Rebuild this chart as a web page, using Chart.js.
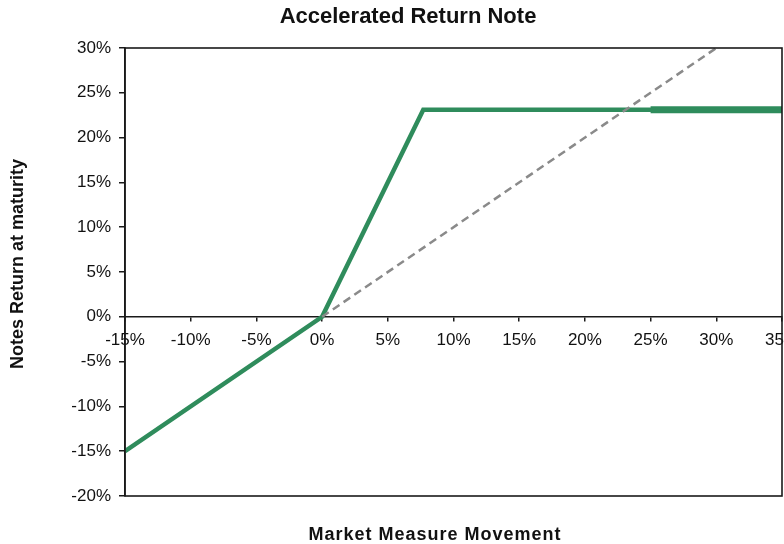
<!DOCTYPE html>
<html>
<head>
<meta charset="utf-8">
<script src="https://cdn.jsdelivr.net/npm/chart.js@4/dist/chart.umd.min.js"></script>
<style>
  html, body { margin: 0; padding: 0; background: #fff; }
  #wrap { width: 784px; height: 544px; position: relative; }
</style>
</head>
<body>
<div id="wrap"><canvas id="c" width="784" height="544"></canvas></div>
<script>
// Data (percent)
const marketMove   = [-15, 0, 7.7, 25, 35];
const noteReturn   = [-15, 0, 23.1, 23.1, 23.1];
const capMove      = [25, 35];
const capReturn    = [23.1, 23.1];
const directMove   = [0, 30];
const directReturn = [0, 30];
const xTicks = [-15, -10, -5, 0, 5, 10, 15, 20, 25, 30, 35];
const yTicks = [-20, -15, -10, -5, 0, 5, 10, 15, 20, 25, 30];

const chartTitle = 'Accelerated Return Note';
const xTitle = 'Market Measure Movement';
const yTitle = 'Notes Return at maturity';

const toPts = (xs, ys) => xs.map((x, i) => ({ x: x, y: ys[i] }));

const GREEN = '#2f8c5c';
const FONT = "'Liberation Sans', Arial, sans-serif";

const framePlugin = {
  id: 'frame',
  afterDraw(chart) {
    const { ctx, chartArea: a } = chart;
    ctx.save();
    ctx.strokeStyle = '#1a1a1a';
    ctx.lineWidth = 1.6;
    ctx.strokeRect(a.left, a.top, a.right - a.left, a.bottom - a.top);
    ctx.fillStyle = '#111';
    ctx.textAlign = 'center';
    ctx.textBaseline = 'middle';
    ctx.font = 'bold 22px ' + FONT;
    ctx.fillText(chartTitle, 408, 17);
    ctx.font = 'bold 18px ' + FONT;
    if ('letterSpacing' in ctx) ctx.letterSpacing = '1px';
    ctx.fillText(xTitle, 435, 535);
    if ('letterSpacing' in ctx) ctx.letterSpacing = '0px';
    ctx.translate(18, 264);
    ctx.rotate(-Math.PI / 2);
    ctx.font = 'bold 18px ' + FONT;
    ctx.fillText(yTitle, 0, 0);
    ctx.restore();
  }
};

new Chart(document.getElementById('c'), {
  type: 'scatter',
  data: {
    datasets: [
      {
        label: 'Direct investment',
        data: toPts(directMove, directReturn),
        showLine: true,
        borderColor: '#8a8a8a',
        borderWidth: 2.5,
        borderDash: [8, 5],
        pointRadius: 0,
        fill: false
      },
      {
        label: 'Note return',
        data: toPts(marketMove, noteReturn),
        showLine: true,
        borderColor: GREEN,
        borderWidth: 4.5,
        pointRadius: 0,
        fill: false
      },
      {
        label: 'Cap',
        data: toPts(capMove, capReturn),
        showLine: true,
        borderColor: GREEN,
        borderWidth: 7,
        borderCapStyle: 'butt',
        pointRadius: 0,
        fill: false
      }
    ]
  },
  options: {
    responsive: false,
    animation: false,
    layout: { padding: { left: 0, right: 2, top: 48, bottom: 48 } },
    plugins: {
      legend: { display: false },
      tooltip: { enabled: false },
      title: { display: false }
    },
    scales: {
      x: {
        type: 'linear',
        position: { y: 0 },
        min: -15, max: 35,
        afterBuildTicks(scale) { scale.ticks = xTicks.map(v => ({ value: v })); },
        afterFit(scale) { scale.paddingLeft = 0; scale.paddingRight = 0; },
        ticks: {
          callback: v => v + '%',
          color: '#111',
          font: { family: FONT, size: 17 },
          padding: 9,
          maxRotation: 0,
          autoSkip: false
        },
        grid: { display: true, drawOnChartArea: false, drawTicks: true, tickLength: 4, color: '#1a1a1a', lineWidth: 1.5 },
        border: { display: true, color: '#1a1a1a', width: 1.6 }
      },
      y: {
        type: 'linear',
        position: 'left',
        min: -20, max: 30,
        afterBuildTicks(scale) { scale.ticks = yTicks.map(v => ({ value: v })); },
        afterFit(scale) { scale.width = 125; },
        ticks: {
          callback: v => v + '%',
          color: '#111',
          font: { family: FONT, size: 17 },
          padding: 8
        },
        grid: { display: true, drawOnChartArea: false, drawTicks: true, tickLength: 6, color: '#1a1a1a', lineWidth: 1.5 },
        border: { display: true, color: '#1a1a1a', width: 1.6 }
      }
    }
  },
  plugins: [framePlugin]
});
</script>
</body>
</html>
